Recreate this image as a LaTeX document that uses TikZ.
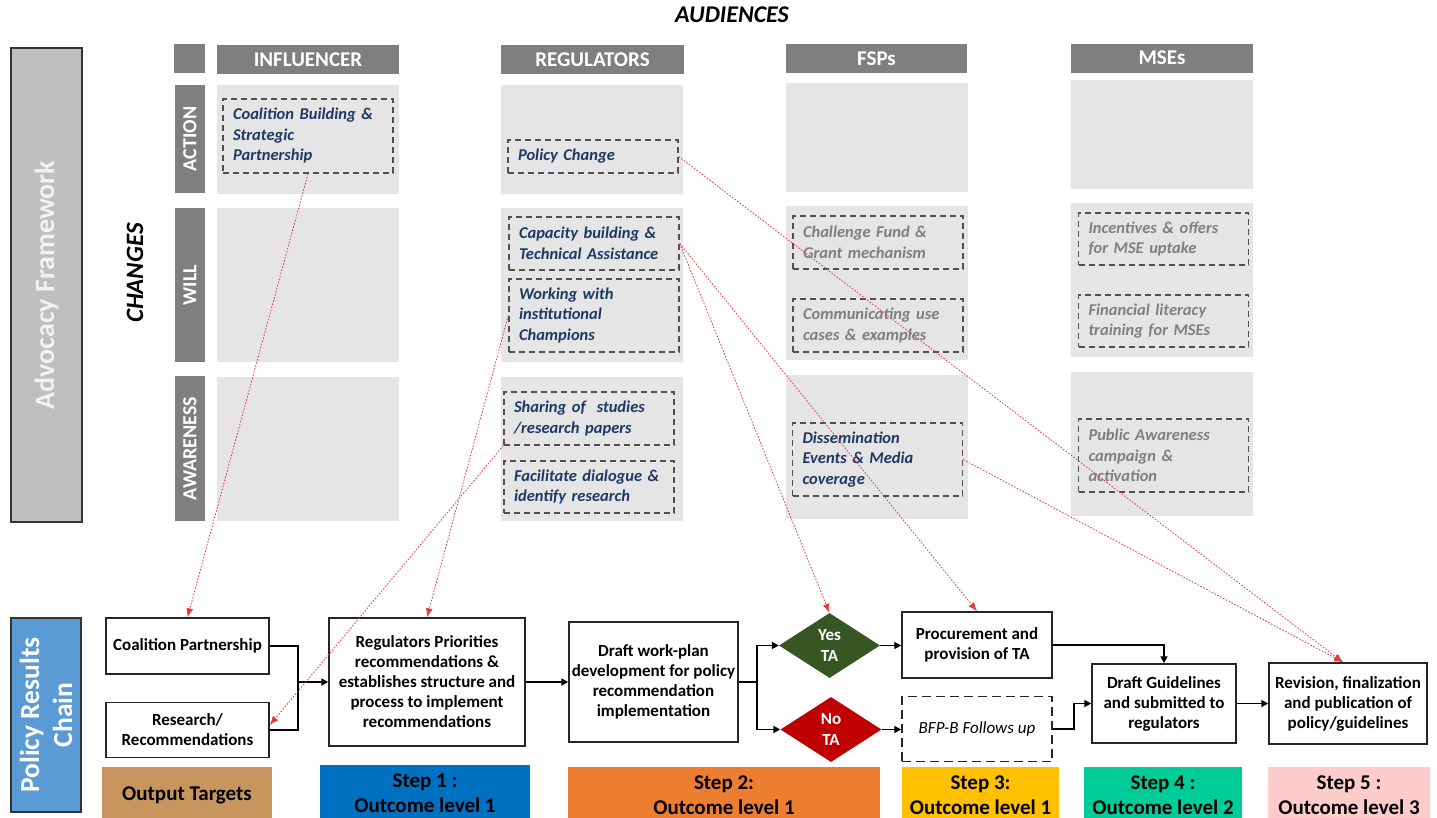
\documentclass[tikz,border=0pt]{standalone}
\usepackage{fontspec}
\setmainfont{Carlito}
\usetikzlibrary{arrows.meta}
\usetikzlibrary{shapes.geometric}
\usetikzlibrary{positioning}

\definecolor{hdrgray}{HTML}{7F7F7F}
\definecolor{cellgray}{HTML}{E5E5E5}
\definecolor{advgray}{HTML}{BFBFBF}
\definecolor{dashgray}{HTML}{505050}
\definecolor{navy}{HTML}{1F3864}
\definecolor{fadegray}{HTML}{7F7F7F}
\definecolor{prcblue}{HTML}{5B9BD5}
\definecolor{dotred}{HTML}{E03C3C}
\definecolor{yesgreen}{HTML}{375623}
\definecolor{nored}{HTML}{C00000}
\definecolor{tan}{HTML}{C9955E}
\definecolor{stepone}{HTML}{0070C0}
\definecolor{steptwo}{HTML}{ED7D31}
\definecolor{stepthree}{HTML}{FFC000}
\definecolor{stepfour}{HTML}{00CC99}
\definecolor{stepfive}{HTML}{FFCCCC}

\begin{document}
\begin{tikzpicture}[
		x=1pt, y=-1pt,
		node distance=20pt,
		hdr/.style={fill=hdrgray, text=white, inner sep=0pt, minimum height=29pt, font=\bfseries\fontsize{21}{24}\selectfont},
		rowlbl/.style={fill=hdrgray, text=white, inner sep=0pt, rotate=90, minimum height=30pt, font=\bfseries\fontsize{20}{22}\selectfont},
		cell/.style={fill=cellgray},
		item/.style={draw=dashgray, line width=1.4pt, dash pattern=on 6pt off 4pt, text width=150pt, inner xsep=10pt, inner ysep=3pt, align=left, text=navy, font=\bfseries\itshape\fontsize{16.5}{20.5}\selectfont},
		faint/.style={item, text=fadegray},
		block/.style={draw=black!85, line width=1.5pt, fill=white, align=center, inner sep=1pt, font=\bfseries\fontsize{17}{20}\selectfont},
		choice/.style={diamond, inner sep=0pt, minimum width=101pt, minimum height=65pt, text=white, align=center, font=\bfseries\fontsize{17}{21}\selectfont},
		stepbox/.style={inner sep=0pt, minimum height=56pt, align=center, font=\bfseries\fontsize{21}{25}\selectfont},
		link/.style={line width=1.8pt, draw=black},
		conn/.style={link, -{Triangle[length=7pt,width=7pt]}},
		infl/.style={draw=dotred, line width=0.8pt, dash pattern=on 1.6pt off 1.6pt, -{Latex[length=9pt,width=7pt]}}
	]
	\useasboundingbox (0,0) rectangle (1437,817);

	% titles
	\node[font=\bfseries\itshape\fontsize{24}{28}\selectfont] (audiences) at (732,15) {AUDIENCES};
	\node[rotate=90, font=\bfseries\itshape\fontsize{25}{28}\selectfont] (changes) at (135,273) {CHANGES};
	\node[draw=black!80, line width=1.5pt, fill=advgray, rotate=90, minimum width=474pt, minimum height=71pt, inner sep=0pt, text=white!95!black, font=\bfseries\fontsize{28}{31}\selectfont] (advfw) at (46.5,285) {Advocacy Framework};
	\node[draw=black!80, line width=1.5pt, fill=prcblue, rotate=90, minimum width=194pt, minimum height=70pt, inner sep=0pt, align=center, text=white, font=\bfseries\fontsize{27.5}{33}\selectfont] (prchain) at (46,715) {Policy Results\\Chain};

	% audience columns and change rows
	\node[hdr, minimum width=31pt] (corner) at (189.5,58.5) {};
	\node[hdr, minimum width=182pt] (influencer) at (308,59.5) {INFLUENCER};
	\node[hdr, minimum width=183pt] (regulators) at (592.5,59.5) {REGULATORS};
	\node[hdr, minimum width=181pt] (fsps) at (876.5,58.5) {FSPs};
	\node[hdr, minimum width=182pt] (mses) at (1162,58) {MSEs};

	\node[rowlbl, minimum width=108pt] (action) at (190,139) {ACTION};
	\node[rowlbl, minimum width=154pt] (will) at (190,285) {WILL};
	\node[rowlbl, minimum width=145pt] (awareness) at (190,448.5) {AWARENESS};

	\foreach \cx/\dy in {217/0,501/0,786/-2,1071/-5}{
		\fill[cell] (\cx,{85+\dy}) rectangle ++(182,109);
		\fill[cell] (\cx,{208+\dy}) rectangle ++(182,154);
		\fill[cell] (\cx,{377+\dy}) rectangle ++(182,144);
	}

	% activities
	\node[item, minimum height=74pt] (cbsp) at (308,136) {Coalition Building \&\\Strategic\\Partnership};
	\node[item, minimum height=33pt] (polchg) at (593,156.5) {Policy Change};
	\node[item, minimum height=53pt] (capbld) at (594,243.5) {Capacity building \&\\Technical Assistance};
	\node[item, minimum height=73pt] (champ) at (594,315.5) {Working with\\institutional\\Champions};
	\node[item, minimum height=53pt] (sharing) at (589,418.5) {Sharing of~ studies\\/research papers};
	\node[item, minimum height=52pt] (dialog) at (589,487) {Facilitate dialogue \&\\identify research};
	\node[faint, minimum height=53pt] (chfund) at (878,242.5) {Challenge Fund \&\\Grant mechanism};
	\node[faint, minimum height=53pt] (usecases) at (878,325.5) {Communicating use\\cases \& examples};
	\node[item, minimum height=73pt] (dissem) at (877.5,459.5) {Dissemination\\Events \& Media\\coverage};
	\node[faint, minimum height=52pt] (incent) at (1163.5,239) {Incentives \& offers\\for MSE uptake};
	\node[faint, minimum height=52pt] (finlit) at (1163.5,321) {Financial literacy\\training for MSEs};
	\node[faint, minimum height=73pt] (pubaw) at (1163.5,455.5) {Public Awareness\\campaign \&\\activation};

	% results chain
	\node[block, minimum width=163pt, minimum height=56pt] (cpart) at (187.5,646) {Coalition Partnership};
	\node[block, minimum width=163pt, minimum height=55pt, below=27pt of cpart] (resrec) {Research/\\Recommendations};
	\node[block, minimum width=196pt, minimum height=128pt] (regpri) at (427,682) {Regulators Priorities\\recommendations \&\\establishes structure and\\process to implement\\recommendations};
	\node[block, minimum width=169pt, minimum height=120pt] (draftwp) at (653.5,682) {Draft work-plan\\development for policy\\recommendation\\implementation};
	\node[choice, fill=yesgreen] (yes) at (829.5,645.5) {Yes\\TA};
	\node[choice, fill=nored] (no) at (831,729.5) {No\\TA};
	\node[block, minimum width=150pt, minimum height=66pt] (procure) at (977,645) {Procurement and\\provision of TA};
	\node[block, dash pattern=on 9pt off 5pt, minimum width=150pt, minimum height=65pt, below=17pt of procure, font=\itshape\fontsize{17}{20}\selectfont] (bfpb) {BFP-B Follows up};
	\node[block, minimum width=144pt, minimum height=79pt] (draftgl) at (1164,703.5) {Draft Guidelines\\and submitted to\\regulators};
	\node[block, minimum width=158pt, minimum height=81pt] (revis) at (1348,703.5) {Revision, finalization\\and publication of\\policy/guidelines};

	% steps
	\node[stepbox, fill=tan, minimum width=170pt] (outtgt) at (187,795) {Output Targets};
	\node[stepbox, fill=stepone, minimum width=210pt] (step1) at (425,793) {Step 1 :\\Outcome level 1};
	\node[stepbox, fill=steptwo, minimum width=312pt] (step2) at (724,795) {Step 2:\\Outcome level 1};
	\node[stepbox, fill=stepthree, minimum width=157pt] (step3) at (980.5,795) {Step 3:\\Outcome level 1};
	\node[stepbox, fill=stepfour, minimum width=158pt] (step4) at (1163,795) {Step 4 :\\Outcome level 2};
	\node[stepbox, fill=stepfive, minimum width=162pt] (step5) at (1349,795) {Step 5 :\\Outcome level 3};

	% flow
	\coordinate (jn) at (298,682);
	\coordinate (split) at (757,682);
	\draw[link] (cpart.east) -| (jn);
	\draw[link] (resrec.east) -| (jn);
	\draw[conn] (jn) -- (regpri.west);
	\draw[conn] (regpri.east) -- (draftwp.west);
	\draw[link] (draftwp.east) -- (split);
	\draw[conn] (split) |- (yes.west);
	\draw[conn] (split) |- (no.west);
	\draw[conn] (yes.east) -- (yes.east -| procure.west);
	\draw[conn] (no.east) -- (no.east -| bfpb.west);
	\draw[conn] (procure.east) -| (draftgl.north);
	\draw[conn] (bfpb.east) -- ++(21,0) |- (draftgl.west);
	\draw[conn] (draftgl.east) -- (revis.west);

	% influences
	\draw[infl] (cbsp.south) -- (cpart.north);
	\draw[infl] (champ.west) -- (regpri.north);
	\draw[infl] (sharing.south west) -- ([yshift=5pt]resrec.east);
	\draw[infl] (capbld.east) -- (yes.north);
	\draw[infl] (capbld.east) -- (procure.north);
	\draw[infl] (polchg.east) -- ([xshift=-5pt]revis.north);
	\draw[infl] (dissem.east) -- ([xshift=-5pt]revis.north);
\end{tikzpicture}
\end{document}
